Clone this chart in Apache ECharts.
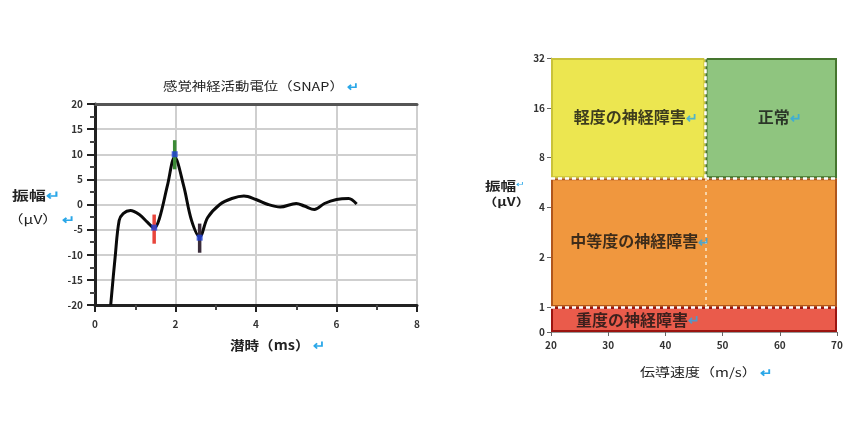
<!DOCTYPE html>
<html><head><meta charset="utf-8">
<script src="https://cdn.jsdelivr.net/npm/echarts@6/dist/echarts.min.js"></script>
<style>html,body{margin:0;padding:0;background:#fff}#c{width:850px;height:441px}</style>
</head><body><div id="c"></div>
<script>
// ---- Left chart: SNAP waveform ----
const latency   = [0.39, 0.5, 0.6, 0.7, 0.88, 1.1, 1.3, 1.47, 1.6, 1.8, 1.98, 2.2, 2.4, 2.6, 2.8, 3.1, 3.4, 3.7, 4.0, 4.3, 4.6, 5.0, 5.2, 5.45, 5.7, 6.0, 6.3, 6.5];
const amplitude = [-20, -10.5, -3.2, -1.8, -1.2, -2.0, -3.5, -4.7, -2.8, 3.8, 9.4, 3.8, -3.2, -6.4, -2.6, 0.0, 1.2, 1.7, 1.0, 0.0, -0.5, 0.2, -0.3, -1.0, 0.2, 1.0, 1.2, 0.1];
const markerLatency = [1.47, 1.98, 2.6];
const markerPeak    = [-4.6, 10.0, -6.6];
const markerLow     = [-7.8, 7.0, -9.6];
const markerHigh    = [-2.0, 12.8, -3.8];
const latencyTicks  = [0, 2, 4, 6, 8];
const snapTicks     = [-20, -15, -10, -5, 0, 5, 10, 15, 20];

// ---- Right chart: classification ----
const regionNames     = ['重度の神経障害', '中等度の神経障害', '軽度の神経障害', '正常'];
const regionSpeedFrom = [20, 20, 20, 47];
const regionSpeedTo   = [70, 70, 47, 70];
const regionAmpFrom   = [0, 1, 6, 6];
const regionAmpTo     = [1, 6, 32, 32];
const labelSpeed      = [35.2, 35.6, 34.8, 60];
const labelAmp        = [0.5, 2.5, 14, 14];
const speedTicks      = [20, 30, 40, 50, 60, 70];
const ampTicks        = [0, 1, 2, 4, 8, 16, 32];

const markerColors = ['#e8453c', '#3c8a36', '#3a2c3a'];
const regionFill   = ['#ea5b4b', '#f0973e', '#ece650', '#8fc57f'];
const regionStroke = ['#9c1410', '#b0561c', '#c9c23a', '#45752e'];

const ampPos = v => v < 1 ? v * 0.5 : Math.log2(v) + 0.5;
const FONT = "'Noto Sans CJK JP', 'Noto Sans', sans-serif";
const RET = '↵';
const BLUE = '#2aa7e8';

const chart = echarts.init(document.getElementById('c'), null, {renderer: 'canvas'});

const tickLabel = {fontSize: 10, fontWeight: 'bold', color: '#333', fontFamily: FONT};

function nameText(left, top, main, ret, size, sx, bold) {
  return {type: 'text', left: left, top: top, scaleX: sx, originX: 0,
    style: {rich: {t: {fontSize: size, fill: '#222', fontWeight: bold ? 'bold' : 'normal', fontFamily: FONT},
                   r: {fontSize: size, fill: BLUE, fontWeight: 'bold', fontFamily: FONT}},
            text: '{t|' + main + '}' + (ret ? '{r|' + ret + '}' : '')}};
}

chart.setOption({
  animation: false,
  backgroundColor: '#fff',
  grid: [
    {left: 95, top: 104, width: 322, height: 201},
    {left: 551, top: 58, width: 286, height: 274}
  ],
  xAxis: [
    {gridIndex: 0, type: 'value', min: 0, max: 8, interval: 2,
     axisLine: {onZero: false, lineStyle: {color: '#222', width: 3}},
     axisTick: {length: 7, lineStyle: {color: '#222', width: 2}},
     minorTick: {show: true, splitNumber: 2, length: 5, lineStyle: {color: '#444', width: 2}},
     splitLine: {show: true, lineStyle: {color: '#cfcfcf', width: 2}},
     axisLabel: Object.assign({margin: 14, customValues: latencyTicks}, tickLabel)},
    {gridIndex: 0, type: 'value', min: 0, max: 8, position: 'top',
     axisLine: {onZero: false, lineStyle: {color: '#555', width: 3}},
     axisTick: {show: false}, axisLabel: {show: false}, splitLine: {show: false}},
    {gridIndex: 1, type: 'value', min: 20, max: 70, interval: 10,
     axisLine: {onZero: false, lineStyle: {color: '#999', width: 1}},
     axisTick: {length: 4, lineStyle: {color: '#666'}},
     splitLine: {show: false},
     axisLabel: Object.assign({margin: 8, customValues: speedTicks}, tickLabel)}
  ],
  yAxis: [
    {gridIndex: 0, type: 'value', min: -20, max: 20, interval: 5,
     axisLine: {show: true, onZero: false, lineStyle: {color: '#222', width: 3}},
     axisTick: {show: true, length: 8, lineStyle: {color: '#222', width: 2}},
     minorTick: {show: true, splitNumber: 2, length: 5, lineStyle: {color: '#444', width: 2}},
     splitLine: {show: true, lineStyle: {color: '#cfcfcf', width: 2}},
     axisLabel: Object.assign({margin: 12, customValues: snapTicks}, tickLabel)},
    {gridIndex: 1, type: 'value', min: 0, max: ampPos(32),
     axisLine: {show: true, onZero: false, lineStyle: {color: '#999', width: 1}},
     axisTick: {show: true, length: 4, customValues: ampTicks.map(ampPos), lineStyle: {color: '#666'}},
     splitLine: {show: false},
     axisLabel: Object.assign({margin: 6, customValues: ampTicks.map(ampPos),
       formatter: v => { const i = ampTicks.findIndex(t => Math.abs(ampPos(t) - v) < 1e-6); return i >= 0 ? String(ampTicks[i]) : ''; }
     }, tickLabel)}
  ],
  series: [
    {type: 'line', xAxisIndex: 0, yAxisIndex: 0, smooth: 0.35, showSymbol: false,
     lineStyle: {color: '#0a0a0a', width: 3}, z: 3,
     data: latency.map((t, i) => [t, amplitude[i]])},
    {type: 'custom', xAxisIndex: 0, yAxisIndex: 0, z: 4,
     data: markerLatency.map((t, i) => [t, markerLow[i], markerHigh[i]]),
     renderItem: (params, api) => {
       const a = api.coord([api.value(0), api.value(1)]);
       const b = api.coord([api.value(0), api.value(2)]);
       return {type: 'line', shape: {x1: a[0], y1: a[1], x2: b[0], y2: b[1]},
               style: {stroke: markerColors[params.dataIndex], lineWidth: 3.5}};
     }},
    {type: 'scatter', xAxisIndex: 0, yAxisIndex: 0, z: 5, symbol: 'rect', symbolSize: 6,
     itemStyle: {color: '#1d3fd6'},
     data: markerLatency.map((t, i) => [t, markerPeak[i]])},
    {type: 'custom', xAxisIndex: 2, yAxisIndex: 1, z: 2,
     data: regionNames.map((n, i) => [regionSpeedFrom[i], regionSpeedTo[i], ampPos(regionAmpFrom[i]), ampPos(regionAmpTo[i])]),
     renderItem: (params, api) => {
       const p0 = api.coord([api.value(0), api.value(3)]);
       const p1 = api.coord([api.value(1), api.value(2)]);
       return {type: 'rect',
               shape: {x: p0[0] + 1, y: p0[1] + 1, width: p1[0] - p0[0] - 2, height: p1[1] - p0[1] - 2},
               style: {fill: regionFill[params.dataIndex], stroke: regionStroke[params.dataIndex], lineWidth: 2}};
     },
     markLine: {silent: true, symbol: 'none', label: {show: false},
       data: [
         [{coord: [20, ampPos(6)], lineStyle: {color: '#fff', width: 2.5, type: [4, 3]}}, {coord: [70, ampPos(6)]}],
         [{coord: [20, ampPos(1)], lineStyle: {color: '#fff', width: 2.5, type: [4, 3]}}, {coord: [70, ampPos(1)]}],
         [{coord: [47, ampPos(6)], lineStyle: {color: '#fff', width: 2.5, type: [4, 3]}}, {coord: [47, ampPos(32)]}],
         [{coord: [47, ampPos(1)], lineStyle: {color: '#f8d4a8', width: 2, type: [3, 4]}}, {coord: [47, ampPos(6)]}]
       ]}},
    {type: 'scatter', xAxisIndex: 2, yAxisIndex: 1, z: 6, symbolSize: 0, silent: true,
     data: regionNames.map((n, i) => ({value: [labelSpeed[i], ampPos(labelAmp[i])], name: n})),
     label: {show: true, position: 'inside',
       formatter: p => '{t|' + p.name + '}{r|' + RET + '}',
       rich: {t: {fontSize: 16, fontWeight: 'bold', color: '#111', fontFamily: FONT},
              r: {fontSize: 14, fontWeight: 'bold', color: BLUE, fontFamily: FONT}}}}
  ],
  graphic: [
    nameText(163, 80, '感覚神経活動電位（SNAP）', ' ' + RET, 12, 1.2, false),
    nameText(12, 189, '振幅', RET, 13, 1.3, true),
    nameText(8, 213, '（μV）', ' ' + RET, 12, 1.3, false),
    nameText(230, 339, '潜時（ms）', ' ' + RET, 13, 1.12, true),
    {type: 'text', left: 485, top: 180, scaleX: 1.3, originX: 0,
     style: {rich: {t: {fontSize: 12, fill: '#222', fontWeight: 'bold', fontFamily: FONT}, r: {fontSize: 8, fill: BLUE, fontFamily: FONT, verticalAlign: 'top'}},
      text: '{t|振幅}{r|' + RET + '}'}},
    {type: 'text', left: 483, top: 196, scaleX: 1.3, originX: 0, style: {text: '（μV）', fontSize: 11, fill: '#222', fontWeight: 'bold', fontFamily: FONT}},
    nameText(640, 366, '伝導速度（m/s）', ' ' + RET, 12, 1.25, false)
  ]
});
</script>
</body></html>
